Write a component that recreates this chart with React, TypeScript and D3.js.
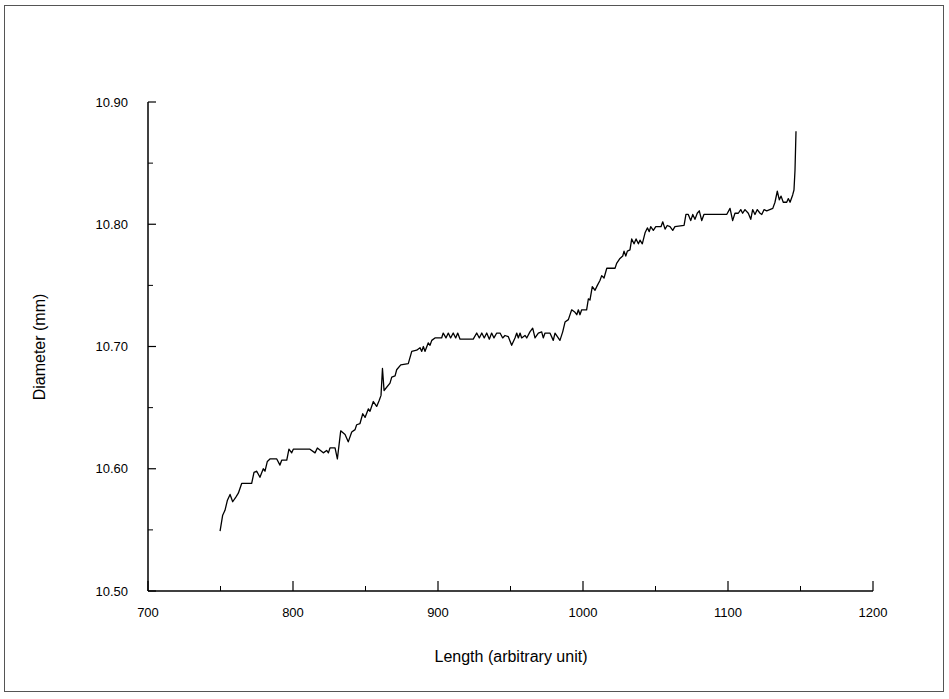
import React from "react";
import * as d3 from "d3";

const lengthValues: number[] = [
  749.7, 751.5, 753.1, 754.7, 756.6, 758.4, 760.7, 762.3, 764.6, 771.5,
  773.1, 775.0, 777.2, 779.5, 780.7, 782.3, 784.1, 788.8, 791.0, 792.2,
  795.7, 797.2, 799.1, 800.2, 811.7, 815.2, 816.8, 820.9, 823.2, 824.4,
  825.5, 829.0, 830.6, 832.9, 835.9, 838.1, 840.5, 842.8, 843.9, 846.2,
  848.1, 849.7, 852.0, 853.1, 855.4, 857.7, 859.5, 860.7, 861.7, 862.8,
  866.9, 868.1, 870.4, 871.5, 874.3, 879.5, 881.9, 885.3, 887.6, 888.8,
  889.9, 891.0, 893.3, 894.5, 895.7, 897.9, 902.5, 903.6, 905.5, 907.1,
  908.7, 910.5, 912.2, 913.6, 915.2, 924.3, 926.7, 928.5, 930.2, 931.9,
  933.6, 935.4, 937.0, 938.6, 940.5, 942.8, 944.6, 946.2, 948.5, 950.8,
  953.1, 954.3, 955.4, 956.6, 957.7, 960.0, 961.2, 963.4, 965.3, 966.9,
  969.2, 971.5, 972.6, 973.8, 977.2, 979.5, 980.7, 984.1, 986.0, 987.6,
  989.9, 992.2, 994.5, 995.7, 996.8, 997.9, 999.1, 1002.5, 1003.7, 1004.8,
  1006.4, 1008.3, 1009.9, 1011.7, 1012.9, 1014.5, 1016.4, 1022.1, 1023.2, 1025.5,
  1027.4, 1028.3, 1029.5, 1030.6, 1032.4, 1033.6, 1035.2, 1036.6, 1038.2, 1039.3,
  1040.9, 1042.8, 1044.4, 1045.7, 1046.7, 1048.5, 1050.2, 1051.9, 1053.8, 1055.0,
  1056.6, 1058.1, 1060.0, 1061.9, 1063.4, 1069.7, 1071.0, 1072.6, 1074.3, 1075.7,
  1077.2, 1078.8, 1080.2, 1081.9, 1083.4, 1085.3, 1099.1, 1101.4, 1103.2, 1104.8,
  1107.1, 1108.8, 1110.1, 1111.7, 1114.0, 1115.7, 1117.0, 1118.6, 1120.2, 1122.1,
  1123.3, 1124.9, 1126.7, 1130.9, 1132.4, 1134.0, 1135.4, 1136.6, 1138.1, 1140.5,
  1141.6, 1142.8, 1144.6, 1145.5, 1146.2, 1146.9,
];

const diameterValues: number[] = [
  10.549, 10.562, 10.566, 10.574, 10.579, 10.573, 10.577, 10.580, 10.588, 10.588,
  10.597, 10.598, 10.593, 10.600, 10.598, 10.606, 10.608, 10.608, 10.603, 10.607,
  10.607, 10.616, 10.613, 10.616, 10.616, 10.613, 10.617, 10.613, 10.615, 10.613,
  10.617, 10.617, 10.608, 10.631, 10.628, 10.622, 10.630, 10.632, 10.636, 10.637,
  10.645, 10.642, 10.649, 10.647, 10.655, 10.651, 10.656, 10.660, 10.682, 10.664,
  10.670, 10.675, 10.676, 10.681, 10.685, 10.686, 10.696, 10.697, 10.699, 10.696,
  10.700, 10.696, 10.703, 10.701, 10.705, 10.707, 10.707, 10.711, 10.707, 10.711,
  10.707, 10.711, 10.707, 10.711, 10.706, 10.706, 10.711, 10.707, 10.711, 10.707,
  10.711, 10.706, 10.711, 10.707, 10.711, 10.711, 10.707, 10.709, 10.708, 10.701,
  10.707, 10.711, 10.707, 10.711, 10.707, 10.709, 10.707, 10.712, 10.715, 10.707,
  10.711, 10.712, 10.707, 10.711, 10.711, 10.705, 10.711, 10.705, 10.712, 10.720,
  10.722, 10.730, 10.728, 10.726, 10.730, 10.726, 10.730, 10.730, 10.739, 10.738,
  10.749, 10.746, 10.750, 10.754, 10.758, 10.756, 10.764, 10.764, 10.768, 10.772,
  10.774, 10.778, 10.774, 10.778, 10.779, 10.788, 10.784, 10.788, 10.784, 10.787,
  10.784, 10.793, 10.797, 10.794, 10.798, 10.795, 10.798, 10.798, 10.798, 10.802,
  10.796, 10.799, 10.798, 10.795, 10.798, 10.799, 10.808, 10.808, 10.803, 10.808,
  10.804, 10.809, 10.811, 10.803, 10.808, 10.808, 10.808, 10.813, 10.803, 10.809,
  10.809, 10.812, 10.809, 10.812, 10.809, 10.804, 10.812, 10.808, 10.812, 10.809,
  10.808, 10.812, 10.811, 10.813, 10.818, 10.827, 10.820, 10.823, 10.818, 10.818,
  10.821, 10.818, 10.824, 10.828, 10.844, 10.876,
];

const xTicks: number[] = [700, 800, 900, 1000, 1100, 1200];
const xMinorTicks: number[] = [750, 850, 950, 1050, 1150];
const yTicks: number[] = [10.5, 10.6, 10.7, 10.8, 10.9];
const yMinorTicks: number[] = [10.55, 10.65, 10.75, 10.85];

const W = 949;
const H = 699;
const left = 148;
const right = 873;
const top = 102;
const bottom = 591;

export default function App() {
  const x = d3.scaleLinear().domain([700, 1200]).range([left, right]);
  const y = d3.scaleLinear().domain([10.5, 10.9]).range([bottom, top]);
  const pts: [number, number][] = lengthValues.map((v, i) => [v, diameterValues[i]]);
  const line = d3
    .line<[number, number]>()
    .x((d) => x(d[0]))
    .y((d) => y(d[1]));
  const font = "'Liberation Sans', Arial, sans-serif";
  return (
    <svg
      width={W}
      height={H}
      style={{ position: "absolute", left: 0, top: 0, background: "#fff" }}
    >
      <rect x={4.5} y={5.5} width={939} height={686} fill="none" stroke="#555" strokeWidth={1} />
      {/* axes */}
      <line x1={left} y1={top} x2={left} y2={bottom} stroke="#000" strokeWidth={1.5} />
      <line x1={left} y1={bottom} x2={right} y2={bottom} stroke="#000" strokeWidth={1.5} />
      {yTicks.map((t) => (
        <g key={"y" + t}>
          <line x1={left} x2={left + 8} y1={y(t)} y2={y(t)} stroke="#000" strokeWidth={1.2} />
          <text
            x={128}
            y={y(t)}
            dy="0.35em"
            textAnchor="end"
            fontFamily={font}
            fontSize={13}
            fill="#000"
          >
            {t.toFixed(2)}
          </text>
        </g>
      ))}
      {yMinorTicks.map((t) => (
        <line key={"ym" + t} x1={left} x2={left + 5} y1={y(t)} y2={y(t)} stroke="#000" strokeWidth={1} />
      ))}
      {xTicks.map((t) => (
        <g key={"x" + t}>
          <line x1={x(t)} x2={x(t)} y1={bottom} y2={bottom - 10} stroke="#000" strokeWidth={1.2} />
          <text
            x={x(t)}
            y={617}
            textAnchor="middle"
            fontFamily={font}
            fontSize={13}
            fill="#000"
          >
            {t}
          </text>
        </g>
      ))}
      {xMinorTicks.map((t) => (
        <line key={"xm" + t} x1={x(t)} x2={x(t)} y1={bottom} y2={bottom - 5} stroke="#000" strokeWidth={1} />
      ))}
      <text
        x={511}
        y={662}
        textAnchor="middle"
        fontFamily={font}
        fontSize={16}
        fill="#000"
      >
        Length (arbitrary unit)
      </text>
      <text
        transform={`translate(45,347) rotate(-90)`}
        textAnchor="middle"
        fontFamily={font}
        fontSize={16}
        fill="#000"
      >
        Diameter (mm)
      </text>
      <path d={line(pts) || ""} fill="none" stroke="#000" strokeWidth={1.3} strokeLinejoin="round" />
    </svg>
  );
}
